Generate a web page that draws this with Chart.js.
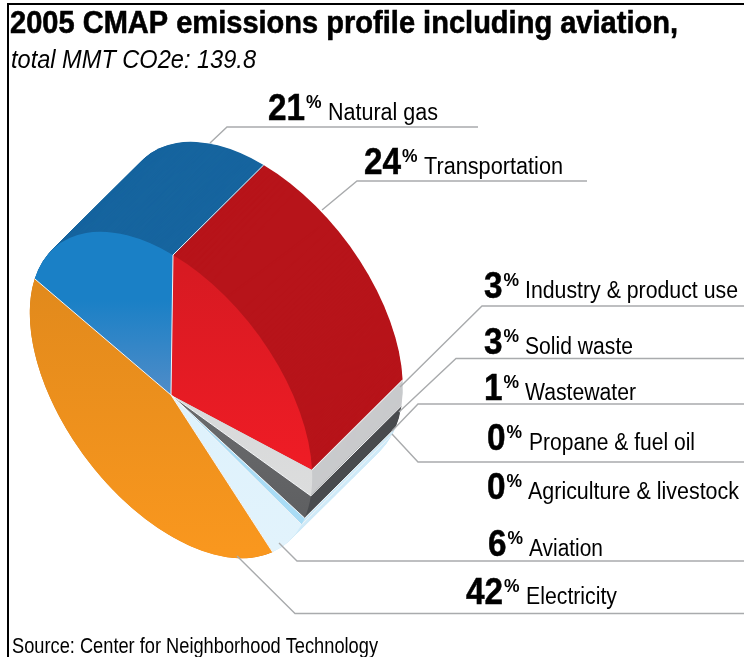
<!DOCTYPE html>
<html><head><meta charset="utf-8">
<style>html,body{margin:0;padding:0;background:#fff}canvas{display:block}</style>
<script src="https://cdn.jsdelivr.net/npm/chart.js@4"></script></head>
<body><canvas id="c" width="744" height="657"></canvas>
<script>
const categories=["Transportation","Industry & product use","Solid waste","Wastewater","Propane & fuel oil","Agriculture & livestock","Aviation","Electricity","Natural gas"];
const shares=[24,3,3,1,0,0,6,42,21];
const titleText="2005 CMAP emissions profile including aviation,";
const subtitleText="total MMT CO2e: 139.8";
const sourceText="Source: Center for Neighborhood Technology";
const faceStart=["#d81a22","#d8d9da","#6a6b6d","#a9dcf5","#999","#999","#def2fc","#e28a1c","#1a80c6"];
const faceEnd=["#ee1c25","#dcdddd","#5e5f61","#a9dcf5","#999","#999","#e2f3fc","#f9971e","#4e8cc8"];
const sideColors=["#b7141a","#c9cacc","#4a4c4f","#cbe9f8","#999","#999","#cfeaf8","#d9801a","#17659f"];

const FONT='"Liberation Sans",Arial,sans-serif';
const FACE={cx:171,cy:395,ax:2,ay:-140,cxx:141.2,cxy:84,depthX:90.6,depthY:-90};
const GRAD={0:[270,460],1:[400,500],2:[400,520],3:[400,525],6:[400,550],7:[290,550],8:[300,392]};
const LABELS={
 "Natural gas":{num:268,name:328,base:120,w:110,line:[[210,143],[227,127],[478,127]]},
 "Transportation":{num:364,name:424,base:174,w:139,line:[[322,210],[357,181],[587,181]]},
 "Industry & product use":{num:484,name:525,base:298,w:213,line:[[400,387],[482,306],[744,306]]},
 "Solid waste":{num:484,name:525,base:354,w:108,line:[[399,412],[456,358.5],[744,358.5]]},
 "Wastewater":{num:484,name:525,base:400,w:111,line:[[392,431],[418,404],[744,404]]},
 "Propane & fuel oil":{num:487,name:529,base:450,w:166,line:[[392,434],[418,462],[744,462]]},
 "Agriculture & livestock":{num:487,name:528,base:499,w:211},
 "Aviation":{num:488,name:529,base:556,w:74,line:[[279,543],[297,561],[744,561]]},
 "Electricity":{num:466,name:526,base:604,w:91,line:[[237,556],[295,613.5],[744,613.5]]}
};
function matrix(arc){
 const r=arc.outerRadius,a=FACE.cxx/r,b=FACE.cxy/r,c=-FACE.ax/r,d=-FACE.ay/r;
 return {a,b,c,d,e:FACE.cx-a*arc.x-c*arc.y,f:FACE.cy-b*arc.x-d*arc.y};
}
function fit(ctx,text,x,y,o){
 ctx.save();ctx.font=o.font;ctx.textAlign='left';ctx.textBaseline='alphabetic';
 const m=ctx.measureText(text).width,s=o.w?o.w/m:(o.scale||1);
 ctx.translate(x,y);ctx.scale(s,1);ctx.fillText(text,0,0);
 if(o.stroke){ctx.lineWidth=o.stroke;ctx.strokeStyle='#000';ctx.strokeText(text,0,0);}
 ctx.restore();return m*s;
}
const pie3d={
 id:'pie3d',
 afterDatasetsUpdate(chart){
  const ctx=chart.ctx;
  chart.getDatasetMeta(0).data.forEach((arc,i)=>{
   const R=GRAD[i];if(!R)return;
   const m=matrix(arc),k=(m.b*0.6+m.d);
   const s0=(R[0]-FACE.cy)/k,s1=(R[1]-FACE.cy)/k;
   const g=ctx.createLinearGradient(arc.x+.6*s0,arc.y+s0,arc.x+.6*s1,arc.y+s1);
   g.addColorStop(0,faceStart[i]);g.addColorStop(1,faceEnd[i]);
   arc.options=Object.assign({},arc.options,{backgroundColor:g});
  });
 },
 beforeDatasetsDraw(chart){
  const ctx=chart.ctx,arcs=chart.getDatasetMeta(0).data,m=matrix(arcs[0]);
  const steps=180;
  for(let s=steps;s>=0;s--){
   const k=s/steps;
   ctx.save();
   ctx.translate(FACE.depthX*k,FACE.depthY*k);
   ctx.transform(m.a,m.b,m.c,m.d,m.e,m.f);
   arcs.forEach((arc,i)=>{
    if(!shares[i])return;
    ctx.beginPath();ctx.moveTo(arc.x,arc.y);
    ctx.arc(arc.x,arc.y,arc.outerRadius,arc.startAngle,arc.endAngle);
    ctx.closePath();ctx.fillStyle=sideColors[i];ctx.fill();
   });
   ctx.restore();
  }
  // white seams between the visible side walls
  arcs.forEach((arc,i)=>{
   if(!shares[i]||i>=7)return;
   const p=rim(arc,m);
   ctx.beginPath();ctx.moveTo(p[0],p[1]);ctx.lineTo(p[0]+FACE.depthX,p[1]+FACE.depthY);
   ctx.strokeStyle='#f4f5f6';ctx.lineWidth=1;ctx.stroke();
  });
  ctx.save();
  ctx.transform(m.a,m.b,m.c,m.d,m.e,m.f);
 },
 afterDatasetsDraw(chart){
  const ctx=chart.ctx,arcs=chart.getDatasetMeta(0).data,m=matrix(arcs[0]);
  ctx.restore();
  // radial seams on the front face
  arcs.forEach((arc,i)=>{
   if(!shares[i]||i===1)return;
   const p=rim(arc,m);
   ctx.beginPath();ctx.moveTo(FACE.cx,FACE.cy);ctx.lineTo(p[0],p[1]);
   ctx.strokeStyle='#f4f6f8';ctx.lineWidth=1;ctx.stroke();
  });
  // frame
  ctx.fillStyle='#000';ctx.fillRect(7,3,737,2);ctx.fillRect(7,3,2,654);
  // leaders
  ctx.strokeStyle='#a9abad';ctx.lineWidth=1.4;
  categories.forEach(n=>{const l=LABELS[n].line;if(!l)return;
   ctx.beginPath();l.forEach((p,i)=>i?ctx.lineTo(p[0],p[1]):ctx.moveTo(p[0],p[1]));ctx.stroke();});
  // text
  ctx.fillStyle='#000';
  fit(ctx,titleText,10,33,{font:'bold 32px '+FONT,w:668,stroke:.6});
  fit(ctx,subtitleText,11,68,{font:'italic 25px '+FONT,w:245});
  categories.forEach((n,i)=>{const L=LABELS[n],t=String(shares[i]);
   const nw=fit(ctx,t,L.num,L.base,{font:'bold 37px '+FONT,scale:.9,stroke:.5});
   fit(ctx,'%',L.num+nw+1,L.base-12,{font:'bold 19px '+FONT,scale:.92});
   fit(ctx,n,L.name,L.base,{font:'23px '+FONT,w:L.w});
  });
  fit(ctx,sourceText,12,653,{font:'22px '+FONT,w:366});
 }
};
function rim(arc,m){
 const px=arc.x+arc.outerRadius*Math.cos(arc.startAngle),py=arc.y+arc.outerRadius*Math.sin(arc.startAngle);
 return [m.a*px+m.c*py+m.e,m.b*px+m.d*py+m.f];
}
new Chart(document.getElementById('c'),{
 type:'pie',
 data:{labels:categories,datasets:[{data:shares,clip:false,backgroundColor:faceEnd,borderWidth:0}]},
 options:{responsive:false,animation:false,rotation:0,
  plugins:{legend:{display:false},tooltip:{enabled:false},title:{display:false}}
 },
 plugins:[pie3d]
});
</script></body></html>
